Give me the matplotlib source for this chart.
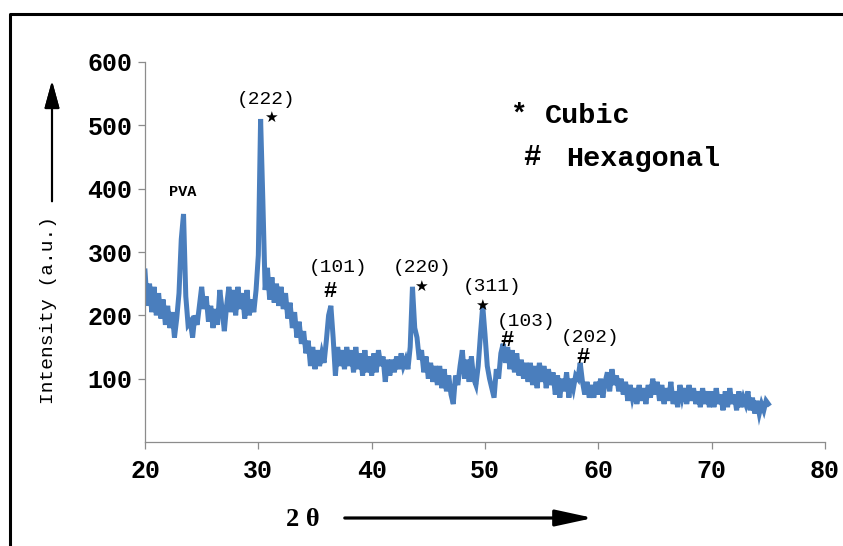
import numpy as np
import matplotlib.pyplot as plt
from matplotlib.lines import Line2D

# XRD scan, 2theta from 20 to 75 deg in 0.2 deg steps
two_theta = np.arange(20.0, 75.01, 0.2)
intensity = [
    270, 215, 250, 205, 245, 200, 235, 195, 225, 185,   # 20
    215, 180, 205, 165, 195, 235, 320, 360, 230, 185,   # 22
    190, 165, 200, 185, 215, 245, 210, 230, 190, 215,   # 24
    180, 210, 185, 240, 210, 175, 215, 245, 205, 240,   # 26
    200, 245, 210, 235, 195, 240, 200, 225, 205, 240,   # 28
    295, 510, 380, 240, 275, 225, 260, 220, 250, 215,   # 30
    245, 210, 235, 195, 220, 180, 205, 165, 190, 155,   # 32
    175, 140, 160, 120, 150, 115, 145, 120, 140, 125,   # 34
    160, 200, 215, 165, 105, 150, 120, 145, 115, 150,   # 36
    120, 145, 110, 150, 115, 140, 105, 145, 110, 135,   # 38
    105, 140, 110, 145, 120, 135, 95, 130, 105, 130,    # 40
    110, 135, 115, 140, 120, 130, 115, 150, 245, 180,   # 42
    165, 130, 145, 110, 135, 100, 125, 95, 120, 90,     # 44
    120, 85, 115, 80, 105, 75, 60, 105, 90, 120,        # 46
    145, 100, 130, 95, 135, 100, 90, 120, 170, 215,     # 48
    170, 120, 100, 85, 70, 115, 100, 140, 155, 125,     # 50
    150, 115, 145, 110, 140, 105, 130, 100, 125, 95,    # 52
    125, 90, 120, 85, 125, 95, 120, 85, 115, 90,        # 54
    110, 75, 105, 70, 100, 80, 110, 70, 100, 85,        # 56
    105, 100, 125, 95, 75, 95, 70, 90, 70, 95,          # 58
    75, 100, 70, 95, 110, 80, 115, 90, 105, 80,         # 60
    100, 75, 95, 65, 90, 70, 85, 60, 90, 65,            # 62
    85, 60, 90, 70, 100, 75, 95, 65, 90, 60,            # 64
    85, 65, 95, 60, 80, 55, 90, 70, 85, 60,             # 66
    90, 65, 85, 60, 80, 55, 85, 60, 80, 55,             # 68
    80, 55, 85, 60, 75, 50, 80, 55, 85, 60,             # 70
    75, 50, 80, 55, 70, 60, 80, 50, 70, 45,             # 72
    65, 45, 60, 50, 65, 60,                             # 74
]

x_ticks = [20, 30, 40, 50, 60, 70, 80]
y_ticks = [100, 200, 300, 400, 500, 600]

W, H = 843, 546


def fx(px):
    return px / W


def fy(py):
    return 1 - py / H


mono = 'Liberation Mono'

fig = plt.figure(figsize=(W / 100, H / 100), dpi=100)
fig.patch.set_facecolor('white')

# outer frame (only top and left edges visible)
fig.add_artist(Line2D([fx(10), fx(10), 1.0], [0.0, fy(13.5), fy(13.5)],
                      color='black', lw=2.2, transform=fig.transFigure))

ax = fig.add_axes([fx(145), fy(442), (825 - 145) / W, (442 - 62) / H])
ax.plot(two_theta, intensity, color='#4a7ebd', lw=3.6, solid_joinstyle='miter')

ax.set_xlim(20, 80)
ax.set_ylim(0, 600)
ax.set_xticks(x_ticks)
ax.set_yticks(y_ticks)
for side in ['top', 'right']:
    ax.spines[side].set_visible(False)
for side in ['left', 'bottom']:
    ax.spines[side].set_color('#8c8c8c')
    ax.spines[side].set_linewidth(0.9)
ax.tick_params(direction='out', length=5, color='#8c8c8c', width=0.9,
               labelsize=18, pad=4)
for lab in ax.get_xticklabels() + ax.get_yticklabels():
    lab.set_fontfamily(mono)
    lab.set_fontweight('bold')
ax.tick_params(axis='x', pad=7)

# peak annotations
lab_kw = dict(fontfamily=mono, fontsize=14, ha='center', va='center')
ax.text(23.35, 395, 'PVA', fontfamily=mono, fontsize=11, fontweight='bold',
        ha='center', va='center')
ax.text(30.7, 540, '(222)', **lab_kw)
ax.text(37.0, 275, '(101)', **lab_kw)
ax.text(44.45, 275, '(220)', **lab_kw)
ax.text(50.6, 245, '(311)', **lab_kw)
ax.text(53.6, 190, '(103)', **lab_kw)
ax.text(59.3, 165, '(202)', **lab_kw)

star_kw = dict(fontfamily='DejaVu Sans', fontsize=11, ha='center', va='center')
ax.text(31.1, 512, '\u2605', **star_kw)
ax.text(44.35, 245, '\u2605', **star_kw)
ax.text(49.75, 216, '\u2605', **star_kw)

hash_kw = dict(fontfamily=mono, fontsize=16, fontweight='bold',
               ha='center', va='center')
ax.text(36.3, 238, '#', **hash_kw)
ax.text(51.95, 160, '#', **hash_kw)
ax.text(58.65, 134, '#', **hash_kw)

# phase key
ax.text(52.9, 517, '*', fontfamily=mono, fontsize=20, fontweight='bold',
        ha='center', va='center')
ax.text(55.3, 515, 'Cubic', fontfamily=mono, fontsize=20.5, fontweight='bold',
        ha='left', va='center')
ax.text(54.15, 450, '#', fontfamily=mono, fontsize=21, fontweight='bold',
        ha='center', va='center')
ax.text(57.2, 447, 'Hexagonal', fontfamily=mono, fontsize=20.5,
        fontweight='bold', ha='left', va='center')

# axis titles with arrows
fig.text(fx(49), fy(310), 'Intensity (a.u.)', fontfamily=mono, fontsize=14,
         rotation=90, ha='center', va='center')
fig.add_artist(plt.annotate('', xy=(fx(52), fy(78)), xytext=(fx(52), fy(204)),
                            xycoords='figure fraction',
                            textcoords='figure fraction',
                            arrowprops=dict(arrowstyle='-|>,head_length=0.84,head_width=0.23',
                                            mutation_scale=20, lw=1.5,
                                            color='black')))

fig.text(fx(303), fy(519), '2 \u03b8', fontfamily='Liberation Serif',
         fontsize=19, fontweight='bold', ha='center', va='center')
ax.annotate('', xy=(fx(596), fy(518)), xytext=(fx(342), fy(518)),
            xycoords='figure fraction', textcoords='figure fraction',
            arrowprops=dict(arrowstyle='-|>,head_length=1.15,head_width=0.25',
                            mutation_scale=20, lw=2.3, color='black'))

fig.savefig('out.png', dpi=100)
